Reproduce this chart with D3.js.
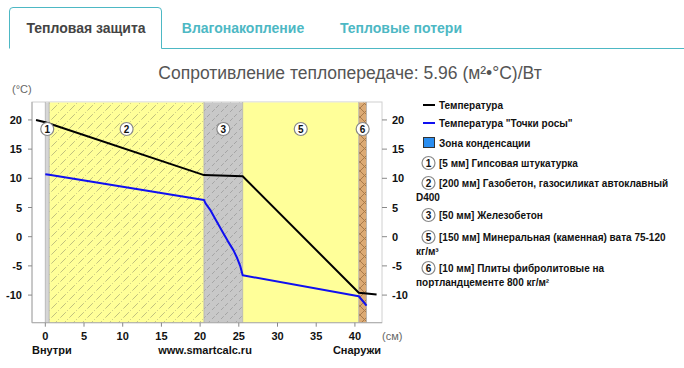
<!DOCTYPE html>
<html><head><meta charset="utf-8">
<script src="https://cdn.jsdelivr.net/npm/d3@7"></script>
<style>
html,body{margin:0;padding:0;background:#fff;}
svg{display:block;font-family:"Liberation Sans",Arial,sans-serif;}
</style></head>
<body>
<script>
// ---- data ----
const tabs = ["Тепловая защита", "Влагонакопление", "Тепловые потери"];
const title = "Сопротивление теплопередаче: 5.96 (м²•°С)/Вт";
const layerIds = ["1", "2", "3", "5", "6"];
const layerStart = [0, 0.5, 20.5, 25.5, 40.5];
const layerEnd = [0.5, 20.5, 25.5, 40.5, 41.5];
const layerFill = ["gray1", "aerated", "concrete", "wool", "fibro"];
const tempX = [-1.2, 0, 0.5, 20.5, 25.5, 40.5, 41.5, 42.8];
const tempY = [20.0, 19.6, 19.4, 10.55, 10.35, -9.6, -9.72, -9.9];
const dewX = [0, 0.5, 20.5, 20.7, 21.3, 21.8, 22.4, 23.0, 23.6, 24.3, 24.8, 25.2, 25.5, 40.5, 41.5];
const dewY = [10.7, 10.6, 6.3, 5.7, 4.6, 3.4, 2.0, 0.6, -0.8, -2.3, -3.7, -5.1, -6.6, -10.2, -11.8];
const xTicks = [0, 5, 10, 15, 20, 25, 30, 35, 40];
const yTicks = [20, 15, 10, 5, 0, -5, -10];
const legendLines = ["Температура", "Температура \"Точки росы\"", "Зона конденсации"];
const legendLayers = [
  ["[5 мм] Гипсовая штукатурка"],
  ["[200 мм] Газобетон, газосиликат автоклавный", "D400"],
  ["[50 мм] Железобетон"],
  ["[150 мм] Минеральная (каменная) вата 75-120", "кг/м³"],
  ["[10 мм] Плиты фибролитовые на", "портландцементе 800 кг/м²"]
];

const W = 684, H = 368;
const svg = d3.select("body").append("svg").attr("width", W).attr("height", H);
const defs = svg.append("defs");

// patterns
function hatch(id, bg, stroke, dash, cross) {
  const p = defs.append("pattern").attr("id", id).attr("patternUnits", "userSpaceOnUse")
    .attr("width", 9).attr("height", 9);
  p.append("rect").attr("width", 9).attr("height", 9).attr("fill", bg);
  if (cross) {
    p.append("path").attr("d", "M0,0L9,9M9,0L0,9").attr("stroke", stroke).attr("stroke-width", 1);
  } else if (stroke) {
    p.append("path").attr("d", "M0,9L9,0M-1,1L1,-1M8,10L10,8").attr("stroke", stroke)
      .attr("stroke-width", 0.8).attr("stroke-dasharray", dash);
  }
}
hatch("gray1", "#d6d6d6", null);
hatch("aerated", "#ffff99", "#b0b078", "4,2,1,2");
hatch("concrete", "#c8c8c8", "#9a9a9a", "4,3");
hatch("wool", "#ffff99", null);
hatch("fibro", "#dcaa74", "#a87a4a", null, true);

// ---- tabs ----
const teal = "#4db8c4";
svg.append("path").attr("d", "M9.5,48.5 V11 Q9.5,7.5 13,7.5 H158 Q161.5,7.5 161.5,11 V48.5 H684")
  .attr("fill", "none").attr("stroke", teal).attr("stroke-width", 1);
const tabX = [86, 243, 401];
svg.selectAll(".tab").data(tabs).join("text")
  .attr("x", (d, i) => tabX[i]).attr("y", 33).attr("text-anchor", "middle")
  .attr("font-size", 14).attr("font-weight", "bold")
  .attr("fill", (d, i) => i === 0 ? "#444" : teal).text(d => d);

svg.append("text").attr("x", 350).attr("y", 79).attr("text-anchor", "middle")
  .attr("font-size", 17.5).attr("fill", "#555").text(title);

// ---- plot ----
const px0 = 32, px1 = 382, py0 = 102, py1 = 322.7;
const x = d3.scaleLinear().domain([-1.72, 43.5]).range([px0, px1]);
const y = d3.scaleLinear().domain([-14.73, 23.07]).range([py1, py0]);

svg.append("rect").attr("x", px0).attr("y", py0).attr("width", px1 - px0).attr("height", py1 - py0)
  .attr("fill", "#fff").attr("stroke", "#d0d0d0");

const layers = layerIds.map((id, i) => ({id, s: layerStart[i], e: layerEnd[i], f: layerFill[i]}));
svg.selectAll(".layer").data(layers).join("rect")
  .attr("x", d => x(d.s)).attr("width", d => x(d.e) - x(d.s))
  .attr("y", py0 + 0.5).attr("height", py1 - py0 - 0.5)
  .attr("fill", d => `url(#${d.f})`);
svg.selectAll(".lb").data(layers).join("line")
  .attr("x1", d => x(d.s)).attr("x2", d => x(d.s)).attr("y1", py0).attr("y2", py1)
  .attr("stroke", "#b0b0b0").attr("stroke-width", 0.8);
svg.append("line").attr("x1", x(layerEnd[4])).attr("x2", x(layerEnd[4])).attr("y1", py0).attr("y2", py1)
  .attr("stroke", "#b0b0b0").attr("stroke-width", 0.8);

svg.append("line").attr("x1", px0).attr("x2", px0).attr("y1", py0).attr("y2", py1).attr("stroke", "#aaa");
svg.append("line").attr("x1", px0).attr("x2", px1).attr("y1", py1).attr("y2", py1).attr("stroke", "#aaa");

// lines
const line = d3.line().x(d => x(d[0])).y(d => y(d[1]));
svg.append("path").datum(tempX.map((v, i) => [v, tempY[i]])).attr("d", line)
  .attr("fill", "none").attr("stroke", "#000").attr("stroke-width", 2);
svg.append("path").datum(dewX.map((v, i) => [v, dewY[i]])).attr("d", line)
  .attr("fill", "none").attr("stroke", "#1010f0").attr("stroke-width", 2).attr("stroke-linejoin", "round");

function badge(g, cx, cy, t) {
  g.append("circle").attr("cx", cx).attr("cy", cy).attr("r", 6.5)
    .attr("fill", "#fff").attr("stroke", "#888").attr("stroke-width", 1.2);
  g.append("text").attr("x", cx).attr("y", cy + 3.6).attr("text-anchor", "middle")
    .attr("font-size", 10).attr("font-weight", "bold").attr("fill", "#111").text(t);
}
layers.forEach(d => badge(svg, x((d.s + d.e) / 2), py0 + 27, d.id));

// axes
const ly = svg.append("g").attr("font-size", 11).attr("font-weight", "bold").attr("fill", "#111");
yTicks.forEach(v => {
  ly.append("line").attr("x1", 28).attr("x2", px0).attr("y1", y(v)).attr("y2", y(v)).attr("stroke", "#888");
  ly.append("text").attr("x", 22).attr("y", y(v) + 4).attr("text-anchor", "end").text(v);
  ly.append("line").attr("x1", px1).attr("x2", px1 + 5).attr("y1", y(v)).attr("y2", y(v)).attr("stroke", "#888");
  ly.append("text").attr("x", px1 + 10).attr("y", y(v) + 4).attr("text-anchor", "start").text(v);
});
xTicks.forEach(v => {
  ly.append("line").attr("x1", x(v)).attr("x2", x(v)).attr("y1", py1).attr("y2", py1 + 4).attr("stroke", "#888");
  ly.append("text").attr("x", x(v)).attr("y", 340).attr("text-anchor", "middle").text(v);
});
svg.append("text").attr("x", 12).attr("y", 93).attr("font-size", 11).attr("fill", "#666").text("(°C)");
svg.append("text").attr("x", 382).attr("y", 340).attr("font-size", 11).attr("fill", "#666").text("(см)");
const bt = svg.append("g").attr("font-size", 11).attr("font-weight", "bold").attr("fill", "#111");
bt.append("text").attr("x", 32).attr("y", 354).text("Внутри");
bt.append("text").attr("x", 205).attr("y", 354).attr("text-anchor", "middle").text("www.smartcalc.ru");
bt.append("text").attr("x", 381).attr("y", 354).attr("text-anchor", "end").text("Снаружи");

// legend
const lg = svg.append("g").attr("font-size", 10).attr("font-weight", "bold").attr("fill", "#111");
const lgY = [105, 123, 143];
lg.append("line").attr("x1", 423).attr("x2", 435).attr("y1", lgY[0]).attr("y2", lgY[0]).attr("stroke", "#000").attr("stroke-width", 2);
lg.append("line").attr("x1", 423).attr("x2", 435).attr("y1", lgY[1]).attr("y2", lgY[1]).attr("stroke", "#1010f0").attr("stroke-width", 2);
lg.append("rect").attr("x", 423.5).attr("y", lgY[2] - 5.5).attr("width", 11).attr("height", 10)
  .attr("fill", "#2a8ef0").attr("stroke", "#333");
legendLines.forEach((t, i) => lg.append("text").attr("x", 439).attr("y", lgY[i] + 3.5).text(t));
const rowY = [163, 183, 215, 237, 268];
legendLayers.forEach((rows, i) => {
  badge(lg, 428.5, rowY[i], layerIds[i]);
  rows.forEach((t, j) => lg.append("text").attr("x", j === 0 ? 439 : 416)
    .attr("y", rowY[i] + 3.5 + j * 14).text(t));
});
</script>
</body></html>
